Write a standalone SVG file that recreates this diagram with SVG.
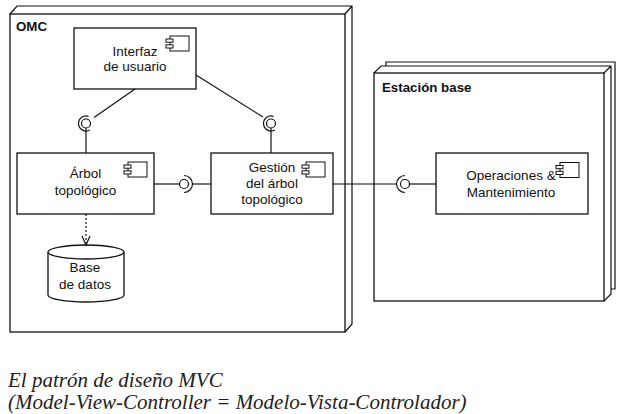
<svg xmlns="http://www.w3.org/2000/svg" xmlns:xlink="http://www.w3.org/1999/xlink" width="632" height="414" viewBox="0 0 632 414">
<style>
.ln{fill:none;stroke:#111;stroke-width:1.2}
.bx{fill:#fff;stroke:#111;stroke-width:1.3}
.t{font-family:"Liberation Sans",Arial,sans-serif;font-size:13.5px;fill:#111;text-anchor:middle}
.b{font-family:"Liberation Sans",Arial,sans-serif;font-size:13.3px;font-weight:bold;fill:#111}
.cap{font-family:"Liberation Serif","Times New Roman",serif;font-size:21px;font-style:italic;fill:#222}
</style>
<defs>
<g id="comp">
<rect x="4" y="0" width="19" height="15" fill="#fff" stroke="#111" stroke-width="1"/>
<rect x="0" y="3" width="7" height="3.2" fill="#fff" stroke="#111" stroke-width="1"/>
<rect x="0" y="8.8" width="7" height="3.2" fill="#fff" stroke="#111" stroke-width="1"/>
</g>
</defs>
<rect width="632" height="414" fill="#fff"/>

<g id="omc">
<path class="ln" d="M10,14 L17,6 L352,6 L352,324 L345,332 M345,14 L352,6"/>
<rect class="bx" x="10" y="14" width="335" height="318" fill="none"/>
<text class="b" x="16" y="31">OMC</text>
</g>

<g id="estacion">
<path class="ln" d="M386,66 L386,62 L615,62 L615,289 L611,289"/>
<path class="ln" d="M374,73 L381,66 L611,66 L611,294 L604,301 M604,73 L611,66"/>
<rect class="bx" x="374" y="73" width="230" height="228"/>
<text class="b" x="382" y="92">Estación base</text>
</g>

<g id="interfaz">
<rect class="bx" x="74" y="28" width="122" height="61"/>
<use xlink:href="#comp" x="166" y="36"/>
<text class="t" x="135" y="56">Interfaz</text>
<text class="t" x="135" y="71">de usuario</text>
</g>

<g id="arbol">
<rect class="bx" x="17" y="153" width="137" height="61"/>
<use xlink:href="#comp" x="124" y="162"/>
<text class="t" x="85.5" y="178">Árbol</text>
<text class="t" x="85.5" y="195">topológico</text>
</g>

<g id="gestion">
<rect class="bx" x="211" y="153" width="122" height="61"/>
<use xlink:href="#comp" x="302" y="162"/>
<text class="t" x="272" y="172">Gestión</text>
<text class="t" x="272" y="188">del árbol</text>
<text class="t" x="272" y="204">topológico</text>
</g>

<g id="operaciones">
<rect class="bx" x="436" y="153" width="152" height="61"/>
<use xlink:href="#comp" x="556" y="162.5"/>
<text class="t" x="511" y="180">Operaciones &amp;</text>
<text class="t" x="511" y="197">Mantenimiento</text>
</g>

<g id="basedatos">
<path class="bx" d="M48,252 L48,295 A38,7 0 0 0 124,295 L124,252"/>
<ellipse class="bx" cx="86" cy="252" rx="38" ry="7"/>
<text class="t" x="85" y="272">Base</text>
<text class="t" x="85" y="289">de datos</text>
</g>

<g id="connectors">
<line class="ln" x1="135" y1="89" x2="94" y2="117.5"/>
<circle class="ln" cx="86" cy="123.5" r="4.5"/>
<path class="ln" d="M89.75,130 A7.5,7.5 0 1 1 88.57,116.45"/>
<line class="ln" x1="86" y1="128" x2="86" y2="153"/>

<line class="ln" x1="196" y1="75" x2="263" y2="117"/>
<circle class="ln" cx="271" cy="123.5" r="4.5"/>
<path class="ln" d="M274.75,130 A7.5,7.5 0 1 1 273.57,116.45"/>
<line class="ln" x1="271" y1="128" x2="271" y2="153"/>

<line class="ln" x1="154" y1="184" x2="179.5" y2="184"/>
<circle class="ln" cx="184" cy="184" r="4.5"/>
<path class="ln" d="M184,175.5 A8.5,8.5 0 0 1 184,192.5"/>
<line class="ln" x1="192.5" y1="184" x2="211" y2="184"/>

<line class="ln" x1="333" y1="184" x2="396.5" y2="184"/>
<path class="ln" d="M405,175.5 A8.5,8.5 0 0 0 405,192.5"/>
<circle class="ln" cx="405" cy="184" r="4.5"/>
<line class="ln" x1="409.5" y1="184" x2="436" y2="184"/>

<line class="ln" x1="86" y1="214" x2="86" y2="245" stroke-dasharray="2,2"/>
<polyline class="ln" points="82,236 86,245 90,236"/>
</g>

<g id="caption">
<text class="cap" x="8" y="387">El patrón de diseño MVC</text>
<text class="cap" x="8" y="409">(Model-View-Controller = Modelo-Vista-Controlador)</text>
</g>
</svg>
